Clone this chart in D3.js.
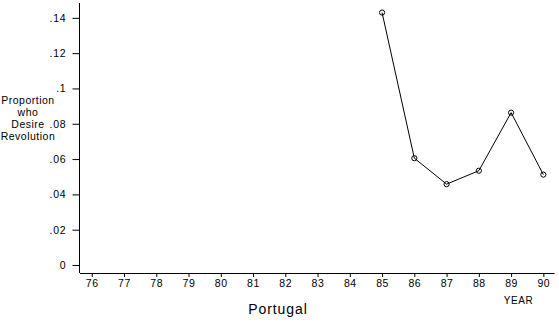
<!DOCTYPE html>
<html>
<head>
<meta charset="utf-8">
<script src="https://cdn.jsdelivr.net/npm/d3@7"></script>
<style>
  body { margin: 0; background: #fff; }
  svg { font-family: "Liberation Sans", Arial, sans-serif; }
  .domain, .tick line { stroke: #000; }
</style>
</head>
<body>
<div id="chart"></div>
<script>
var width = 559, height = 326;

// data
var years = [85, 86, 87, 88, 89, 90];
var proportion = [0.143, 0.0605, 0.0458, 0.0534, 0.0863, 0.0512];
var yearTicks = [76, 77, 78, 79, 80, 81, 82, 83, 84, 85, 86, 87, 88, 89, 90];
var propTicks = [0, 0.02, 0.04, 0.06, 0.08, 0.1, 0.12, 0.14];
var propLabels = ["0", ".02", ".04", ".06", ".08", ".1", ".12", ".14"];
var titleLines = ["Proportion", "who", "Desire", "Revolution"];

var svg = d3.select("#chart")
  .append("svg")
    .attr("width", width)
    .attr("height", height);

var x = d3.scaleLinear()
  .domain([75.62, 90.33])
  .range([79.5, 554]);

var y = d3.scaleLinear()
  .domain([0, 0.1484])
  .range([265, 3]);

// X axis
var xAxis = svg.append("g")
  .attr("transform", "translate(0,273)")
  .style("font-size", "10.5px")
  .style("letter-spacing", "0.6px")
  .call(d3.axisBottom(x)
    .tickValues(yearTicks)
    .tickSize(4)
    .tickPadding(3)
    .tickSizeOuter(0));
xAxis.selectAll("text").attr("fill", "#000");

// Y axis
var yAxis = svg.append("g")
  .attr("transform", "translate(79.5,0)")
  .style("font-size", "10.5px")
  .style("letter-spacing", "0.8px")
  .call(d3.axisLeft(y)
    .tickValues(propTicks)
    .tickFormat(function(d, i) { return propLabels[i]; })
    .tickSize(7)
    .tickPadding(6)
    .tickSizeOuter(0));
yAxis.selectAll("text").attr("fill", "#000");
yAxis.select(".domain").attr("d", "M0," + y.range()[1] + "V273");

// titles
svg.append("text")
  .attr("x", 518.5)
  .attr("y", 303.5)
  .attr("text-anchor", "middle")
  .style("font-size", "10px")
  .style("letter-spacing", "0.6px")
  .text("YEAR");

svg.append("text")
  .attr("x", 278)
  .attr("y", 314)
  .attr("text-anchor", "middle")
  .style("font-size", "14px")
  .style("letter-spacing", "0.9px")
  .text("Portugal");

svg.append("text")
  .attr("text-anchor", "middle")
  .style("font-size", "10.5px")
  .style("letter-spacing", "0.5px")
  .selectAll("tspan")
  .data(titleLines)
  .enter()
  .append("tspan")
    .attr("x", 28)
    .attr("y", function(d, i) { return 103.5 + i * 12.2; })
    .text(function(d) { return d; });

// line
var line = d3.line()
  .x(function(d, i) { return x(years[i]); })
  .y(function(d) { return y(d); });

svg.append("path")
  .datum(proportion)
  .attr("d", line)
  .attr("fill", "none")
  .attr("stroke", "#000")
  .attr("stroke-width", 1);

svg.append("g")
  .selectAll("circle")
  .data(proportion)
  .enter()
  .append("circle")
    .attr("cx", function(d, i) { return x(years[i]); })
    .attr("cy", function(d) { return y(d); })
    .attr("r", 2.6)
    .attr("fill", "none")
    .attr("stroke", "#000")
    .attr("stroke-width", 1);
</script>
</body>
</html>
